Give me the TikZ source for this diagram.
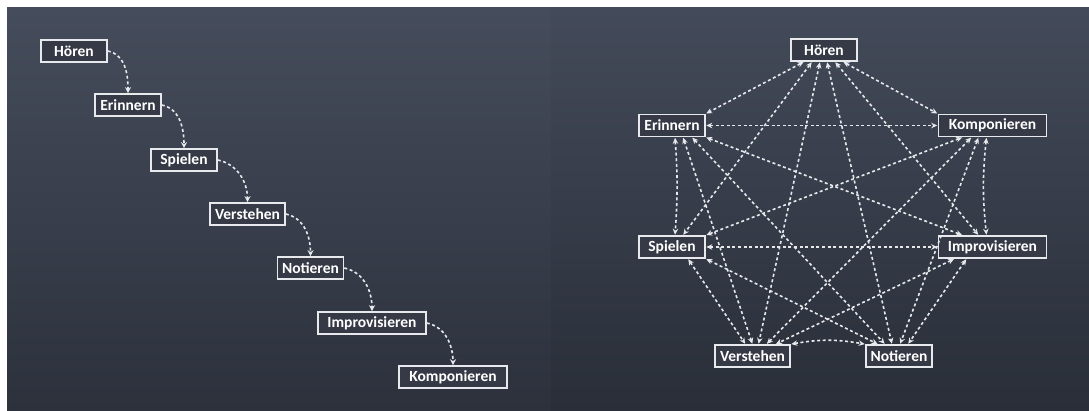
\documentclass[tikz,border=0pt]{standalone}
\usepackage{fontspec}
\setmainfont{Carlito}
\usetikzlibrary{arrows.meta}
\definecolor{boardtop}{HTML}{454C5B}
\definecolor{boardbot}{HTML}{2C313C}
\definecolor{boardtopR}{HTML}{434A59}
\definecolor{boardbotR}{HTML}{292E38}
\definecolor{chalk}{HTML}{E8E9EC}
\definecolor{boxfill}{HTML}{353A46}
\tikzset{
  box/.style={draw=chalk, line width=1.6pt, fill=boxfill, text=white,
    font=\fontsize{15.5}{18}\selectfont\bfseries, inner sep=0pt,
    minimum height=22pt, minimum width=#1},
  box/.default=66pt,
  chalkline/.style={draw=chalk, line width=1.6pt, dash pattern=on 3pt off 2.6pt},
  onearrow/.style={chalkline, -{Stealth[length=6pt,width=6pt]}},
  bothway/.style={chalkline, {Stealth[length=6pt,width=5.5pt]}-{Stealth[length=6pt,width=5.5pt]}, shorten <=0.5pt, shorten >=0.5pt}
}
\begin{document}
\begin{tikzpicture}[x=1pt,y=-1pt]
\useasboundingbox (0,0) rectangle (1089,410);
\fill[white] (0,0) rectangle (1089,410);
\shade[top color=boardtop, bottom color=boardbot] (7,7) rectangle (551,410);
\shade[top color=boardtopR, bottom color=boardbotR] (551,7) rectangle (1089,410);

% left panel: sequence
\node[box] (h1) at (74,51) {Hören};
\node[box] (e1) at (128,105) {Erinnern};
\node[box] (s1) at (184,160) {Spielen};
\node[box=75pt] (v1) at (247.5,214) {Verstehen};
\node[box] (n1) at (310.5,268) {Notieren};
\node[box=108pt] (i1) at (372,323) {Improvisieren};
\node[box=108pt] (k1) at (453,377) {Komponieren};

\draw[onearrow] (h1.east) to[out=-12,in=90] (e1.north);
\draw[onearrow] (e1.east) to[out=-12,in=90] (s1.north);
\draw[onearrow] (s1.east) to[out=-12,in=90] (v1.north);
\draw[onearrow] (v1.east) to[out=-12,in=90] (n1.north);
\draw[onearrow] (n1.east) to[out=-12,in=90] (i1.north);
\draw[onearrow] (i1.east) to[out=-12,in=90] (k1.north);

% right panel: complete network
\node[box] (H) at (824,50) {Hören};
\node[box] (E) at (672,125.5) {Erinnern};
\node[box=108pt] (K) at (992.5,125.5) {Komponieren};
\node[box] (S) at (672,247) {Spielen};
\node[box=108pt] (I) at (992.5,247) {Improvisieren};
\node[box=75pt] (V) at (752.5,356) {Verstehen};
\node[box] (N) at (899,356) {Notieren};

% from Hören
\draw[bothway] ([xshift=-20pt]H.south) -- (E.north east);
\draw[bothway] ([xshift=-12pt]H.south) -- ([xshift=11pt]S.north);
\draw[bothway] ([xshift=-4pt]H.south) -- ([xshift=6pt]V.north);
\draw[bothway] ([xshift=3pt]H.south) -- ([xshift=-7pt]N.north);
\draw[bothway] ([xshift=11pt]H.south) -- ([xshift=-14pt]I.north);
\draw[bothway] ([xshift=19pt]H.south) -- (K.north west);
% from Erinnern
\draw[bothway] (E.east) -- (K.west);
\draw[bothway] ([xshift=3pt]E.south) to[bend left=4] ([xshift=3pt]S.north);
\draw[bothway] ([xshift=11pt]E.south) -- (V.north);
\draw[bothway] ([xshift=20pt]E.south) -- ([xshift=-14pt]N.north);
\draw[bothway] (E.south east) -- ([xshift=-30pt]I.north);
% from Komponieren
\draw[bothway] ([xshift=-30pt]K.south) -- (S.north east);
\draw[bothway] ([xshift=-21pt]K.south) -- ([xshift=14pt]V.north);
\draw[bothway] ([xshift=-14pt]K.south) -- ([xshift=1pt]N.north);
\draw[bothway] ([xshift=-6pt]K.south) to[bend right=6] ([xshift=-6pt]I.north);
% from Spielen
\draw[bothway] (S.east) -- (I.west);
\draw[bothway] ([xshift=16pt]S.south) -- ([xshift=-7pt]V.north);
\draw[bothway] (S.south east) -- ([xshift=-21pt]N.north);
% from Improvisieren
\draw[bothway] ([xshift=-38pt]I.south) -- ([xshift=23pt]V.north);
\draw[bothway] ([xshift=-26pt]I.south) -- ([xshift=9pt]N.north);
% Verstehen - Notieren
\draw[bothway] (V.north east) to[bend left=10] (N.north west);
\end{tikzpicture}
\end{document}
